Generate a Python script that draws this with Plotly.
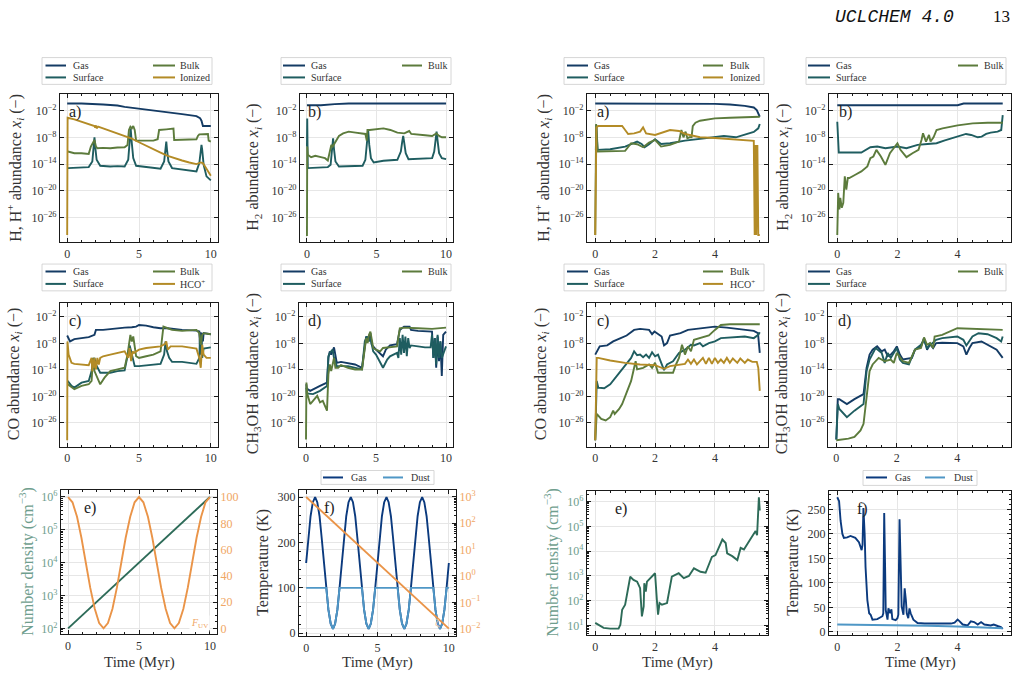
import plotly.graph_objects as go

W, H = 1019, 679
SERIF = "Liberation Serif"
MONO = "Liberation Mono"

C_GAS = "#143b64"
C_SURF = "#1f5d60"
C_BULK = "#5c7b3c"
C_ION = "#b38b26"
C_TGAS = "#0b3a7e"
C_DUST = "#4f97c6"
C_DENS = "#2d6b58"
C_ORNG = "#ea9448"
C_DENS_LBL = "#6f9e8e"
C_ORNG_LBL = "#f0a664"
FRAME = "#1a1a1a"
GRID = "#e6e6e6"
TXT = "#333333"
TICKSZ = 12

# ---------------- data : left simulation (0-10 Myr), log10 abundances ----------------
t_aL_gas = [0, 1, 2.5, 3.5, 4, 5, 6, 7, 8, 9, 9.25, 9.35, 9.45, 10]
lg_aL_gas = [-0.36, -0.36, -0.59, -0.81, -1.11, -1.48, -1.85, -2.22, -2.74, -3.19, -3.64, -4.23, -5.42, -5.42]
t_aL_surf = [0.05, 1.0, 1.5, 1.75, 1.85, 1.9, 1.95, 2.05, 2.3, 3.0, 3.5, 4.0, 4.25, 4.35, 4.42, 4.5, 4.6, 4.8, 5.5, 6.0,
             6.5, 6.75, 6.85, 6.9, 6.95, 7.05, 7.3, 8.0, 8.5, 9.0, 9.2, 9.3, 9.35, 9.4, 9.5, 9.7, 10]
lg_aL_surf = [-14.86, -14.71, -14.64, -13.38, -10.03, -7.95, -10.03, -13.00, -14.34, -14.49, -14.42, -14.49, -13.00, -9.29,
              -6.01, -9.29, -12.63, -14.34, -14.64, -14.86, -15.01, -13.38, -10.77, -8.91, -10.77, -13.38, -14.86, -15.23,
              -15.38, -15.61, -13.75, -10.77, -9.66, -10.77, -14.12, -16.72, -17.61]
t_aL_bulk = [0.05, 0.5, 1.0, 1.5, 1.65, 1.75, 1.9, 2.0, 2.1, 2.5, 3.0, 3.5, 4.0, 4.2, 4.3, 4.4, 4.5, 4.6, 4.7, 4.8, 5.0,
             5.5, 6.0, 6.3, 6.4, 6.9, 7.4, 7.45, 8.0, 8.5, 9.0, 9.1, 9.2, 9.8, 9.85, 10]
lg_aL_bulk = [-11.14, -11.52, -11.52, -11.67, -10.03, -9.51, -8.54, -10.03, -10.40, -10.33, -10.40, -10.25, -10.18, -9.66,
              -6.31, -5.57, -5.94, -5.42, -6.31, -8.69, -8.69, -8.84, -8.69, -8.39, -6.31, -6.16, -6.01, -8.54, -8.54,
              -8.54, -8.39, -7.65, -7.28, -7.20, -8.69, -8.91]
t_aL_ion = [0, 0.03, 0.5, 1, 1.5, 1.9, 1.95, 2.0, 2.05, 2.15, 2.5, 3, 3.5, 4, 4.5, 5, 5.5, 6, 6.5, 7, 7.5, 8, 8.5, 9,
            9.3, 9.45, 9.6, 10]
lg_aL_ion = [-29.88, -3.56, -3.93, -4.45, -4.97, -5.42, -5.79, -5.27, -5.94, -5.57, -5.94, -6.54, -7.06, -7.65, -8.25,
             -9.06, -9.88, -10.62, -11.37, -12.11, -12.71, -13.15, -13.60, -13.97, -13.60, -13.75, -14.49, -16.57]

t_bL_gas = [0, 1, 2, 3, 10]
lg_bL_gas = [-0.74, -0.74, -0.51, -0.36, -0.36]
t_bL_surf = [0, 0.02, 0.06, 1.5, 1.7, 1.8, 1.88, 1.95, 2.05, 2.3, 3.0, 4.0, 4.2, 4.32, 4.4, 4.48, 4.6, 4.8, 5.5, 6.5,
             6.75, 6.85, 6.92, 7.0, 7.1, 7.3, 8.0, 9.0, 9.15, 9.25, 9.32, 9.4, 9.5, 9.7, 10]
lg_bL_surf = [-10.03, -3.71, -14.86, -14.64, -14.12, -11.52, -8.17, -10.77, -13.38, -14.49, -14.49, -14.34, -13.00, -9.66,
              -6.31, -9.66, -12.63, -13.60, -13.23, -13.00, -11.14, -8.91, -7.65, -9.29, -11.52, -12.86, -12.71, -12.63,
              -11.14, -8.54, -6.68, -8.91, -11.52, -12.63, -12.86]
t_bL_bulk = [0, 0.02, 0.06, 0.3, 0.6, 1.0, 1.3, 1.5, 1.65, 1.75, 1.85, 2.0, 2.3, 2.6, 3.0, 3.5, 4.0, 4.2, 4.3, 4.35,
             4.5, 5.0, 5.5, 6.0, 6.5, 7.0, 7.35, 7.5, 8.0, 8.5, 9.0, 9.3, 9.5, 9.7, 10]
lg_bL_bulk = [-30.10, -10.03, -11.89, -12.41, -12.11, -12.41, -12.63, -13.15, -10.77, -9.66, -10.03, -9.29, -7.65, -7.06,
              -6.68, -6.91, -7.06, -7.20, -8.69, -6.31, -6.31, -6.16, -5.94, -6.31, -6.91, -7.06, -6.54, -7.20, -7.43,
              -7.50, -7.65, -7.06, -7.65, -7.95, -7.95]

t_cL_gas = [0, 0.05, 0.2, 0.5, 1.0, 1.5, 1.9, 2.0, 2.5, 3.0, 3.5, 4.0, 4.5, 4.8, 5.0, 5.5, 6.0, 6.5, 7.0, 7.5, 8.0,
            9.0, 9.2, 9.25, 9.3, 9.35, 9.4, 9.45, 9.5, 10]
lg_cL_gas = [-6.22, -6.66, -7.56, -7.04, -6.81, -6.59, -6.07, -4.95, -4.95, -4.72, -4.57, -4.43, -4.35, -4.20, -3.83,
             -3.98, -4.35, -4.57, -4.57, -4.80, -4.95, -5.10, -5.32, -9.05, -5.47, -8.31, -5.69, -7.56, -5.69, -5.92]
t_cL_surf = [0.03, 0.3, 0.5, 1.0, 1.5, 1.7, 1.8, 1.9, 2.0, 2.1, 2.3, 3.0, 3.5, 4.0, 4.25, 4.35, 4.45, 4.55, 4.7, 5.0,
             6.0, 6.5, 6.75, 6.85, 6.95, 7.1, 7.3, 8.0, 9.0, 9.2, 9.25, 9.3, 9.35, 9.4, 9.5, 10]
lg_cL_surf = [-16.51, -17.63, -18.01, -16.89, -16.51, -14.28, -12.04, -11.29, -12.78, -13.53, -14.65, -14.65, -14.28,
              -14.13, -10.54, -8.46, -9.80, -11.29, -13.16, -13.16, -12.78, -12.63, -10.54, -7.56, -9.80, -11.29,
              -12.19, -12.19, -12.63, -11.29, -6.07, -10.54, -6.81, -11.29, -9.20, -8.90]
t_cL_bulk = [0.03, 0.5, 1.0, 1.5, 1.7, 1.8, 1.9, 2.0, 2.3, 2.6, 3.0, 3.5, 4.0, 4.2, 4.3, 4.4, 4.5, 4.6, 4.8, 5.0, 5.5,
             6.0, 6.5, 6.6, 6.7, 7.0, 7.3, 8.0, 9.0, 9.2, 9.3, 9.4, 9.5, 10]
lg_cL_bulk = [-17.26, -18.38, -17.63, -17.26, -16.51, -11.29, -14.28, -15.02, -17.26, -15.77, -14.28, -13.90, -13.53,
              -10.54, -7.56, -6.07, -7.56, -6.44, -10.92, -11.29, -10.92, -10.54, -9.80, -6.81, -4.20, -4.57, -4.95,
              -5.17, -4.95, -5.69, -8.31, -6.07, -5.69, -5.92]
t_cL_hco = [0, 0.02, 0.1, 0.3, 0.5, 1.0, 1.5, 1.7, 1.75, 1.8, 1.85, 1.9, 2.0, 2.1, 2.2, 2.3, 2.5, 3.0, 3.5, 4.0, 4.25,
            4.35, 4.45, 4.55, 4.65, 5.0, 5.5, 6.0, 6.5, 6.8, 6.9, 7.0, 7.2, 8.0, 9.0, 9.2, 9.3, 9.4, 9.5, 9.7, 10]
lg_cL_hco = [-29.94, -7.56, -10.54, -12.41, -12.63, -12.78, -12.93, -11.29, -14.28, -11.66, -13.53, -11.29, -13.90,
             -11.29, -12.78, -11.29, -10.92, -10.54, -10.16, -9.80, -11.29, -9.05, -12.04, -9.80, -10.16, -9.43, -9.05,
             -8.90, -8.68, -8.16, -7.56, -9.43, -8.68, -8.68, -9.20, -11.29, -13.53, -8.31, -10.54, -11.29, -11.29]

t_dL_gas = [0.02, 0.05, 0.3, 0.5, 1.0, 1.5, 1.6, 1.7, 1.8, 2.0, 2.1, 2.2, 2.5, 3.0, 3.5, 4.0, 4.2, 4.3, 4.5, 4.6, 4.7,
            5.0, 5.5, 5.7, 6.0, 6.5, 6.7, 7.0, 7.4, 7.5, 8.0, 8.5, 9.0, 9.1, 9.2, 9.3, 9.4, 9.5, 9.6, 9.7, 9.8, 10]
lg_dL_gas = [-17.26, -18.23, -18.75, -18.38, -17.63, -16.89, -11.29, -9.80, -10.54, -8.90, -10.54, -12.41, -12.19,
             -12.41, -12.78, -13.53, -8.31, -6.44, -7.19, -5.69, -8.31, -9.43, -10.92, -9.43, -8.46, -8.16, -4.95,
             -4.20, -4.20, -4.95, -5.17, -5.17, -5.32, -11.29, -6.81, -13.53, -6.44, -12.04, -7.56, -15.40, -6.07, -5.32]
t_dL_surf = [0.02, 0.05, 0.5, 1.0, 1.5, 1.6, 1.7, 1.9, 2.0, 2.2, 3.0, 3.5, 4.0, 4.2, 4.35, 4.5, 4.6, 4.8, 5.0, 5.5,
             5.8, 6.0, 6.5, 6.6, 6.7, 6.8, 6.9, 7.0, 7.1, 7.2, 7.3, 7.4, 7.5, 8.0, 8.5, 8.9, 9.0, 9.1, 9.2, 9.3, 9.4,
             9.5, 9.6, 9.7, 10]
lg_dL_surf = [-18.01, -19.35, -19.50, -18.75, -17.63, -10.92, -10.16, -9.43, -11.29, -13.16, -13.16, -13.53, -13.90,
              -7.56, -6.44, -7.56, -6.81, -9.80, -10.54, -13.53, -11.66, -10.92, -10.16, -11.29, -6.81, -10.54, -6.07,
              -10.16, -6.44, -10.92, -6.81, -9.05, -8.46, -8.68, -8.90, -8.90, -6.07, -11.29, -6.81, -12.78, -6.07,
              -11.29, -7.56, -11.29, -8.68]
t_dL_bulk = [0, 0.03, 0.1, 0.3, 0.5, 0.8, 1.0, 1.2, 1.5, 1.55, 1.6, 1.7, 1.8, 2.0, 2.1, 2.3, 2.5, 3.0, 3.5, 4.0, 4.2,
             4.3, 4.4, 4.5, 4.6, 4.8, 5.0, 5.3, 5.5, 6.0, 6.5, 6.7, 7.0, 8.0, 9.0, 10]
lg_dL_bulk = [-29.79, -16.89, -19.50, -21.74, -21.00, -19.88, -21.37, -21.00, -23.23, -17.26, -15.02, -12.78, -14.28,
              -11.29, -13.53, -13.53, -12.93, -13.53, -13.90, -13.90, -9.05, -6.81, -7.93, -6.07, -5.32, -9.05, -9.43,
              -9.80, -9.05, -8.90, -8.68, -4.57, -4.43, -4.57, -4.72, -4.43]

# physical conditions, left simulation
t_eL_dens = [0, 10]
nH_eL = [1e2, 1e6]
t_eL_fuv = [0.0, 0.31, 0.63, 0.94, 1.25, 1.56, 1.88, 2.19, 2.5, 2.81, 3.13, 3.44, 3.75, 4.06, 4.38, 4.69, 5.0, 5.31,
            5.63, 5.94, 6.25, 6.56, 6.88, 7.19, 7.5, 7.81, 8.13, 8.44, 8.75, 9.06, 9.38, 9.69, 10.0]
fuv_eL = [100, 96, 85, 69, 50, 31, 15, 4, 0, 4, 15, 31, 50, 69, 85, 96, 100, 96, 85, 69, 50, 31, 15, 4, 0, 4, 15, 31,
          50, 69, 85, 96, 100]
t_fL = [0.0, 0.16, 0.31, 0.47, 0.63, 0.78, 0.94, 1.09, 1.25, 1.41, 1.56, 1.72, 1.88, 2.03, 2.19, 2.34, 2.5, 2.66,
        2.81, 2.97, 3.13, 3.28, 3.44, 3.59, 3.75, 3.91, 4.06, 4.22, 4.38, 4.53, 4.69, 4.84, 5.0, 5.16, 5.31, 5.47,
        5.63, 5.78, 5.94, 6.09, 6.25, 6.41, 6.56, 6.72, 6.88, 7.03, 7.19, 7.34, 7.5, 7.66, 7.81, 7.97, 8.13, 8.28,
        8.44, 8.59, 8.75, 8.91, 9.06, 9.22, 9.38, 9.53, 9.69, 9.84, 10.0]
Tgas_fL = [155, 210, 258, 289, 300, 289, 258, 210, 155, 100, 52, 21, 10, 21, 52, 100,
           155, 210, 258, 289, 300, 289, 258, 210, 155, 100, 52, 21, 10, 21, 52, 100,
           155, 210, 258, 289, 300, 289, 258, 210, 155, 100, 52, 21, 10, 21, 52, 100,
           155, 210, 258, 289, 300, 289, 258, 210, 155, 100, 52, 21, 10, 21, 52, 100, 155]
Tdust_fL = [100, 100, 100, 100, 100, 100, 100, 100, 100, 100, 52, 21, 10, 21, 52, 100,
            100, 100, 100, 100, 100, 100, 100, 100, 100, 100, 52, 21, 10, 21, 52, 100,
            100, 100, 100, 100, 100, 100, 100, 100, 100, 100, 52, 21, 10, 21, 52, 100,
            100, 100, 100, 100, 100, 100, 100, 100, 100, 100, 52, 21, 10, 21, 52, 100, 100]
t_fL_zeta = [0, 10]
zeta_fL = [1e3, 1e-2]

# ---------------- data : right simulation (0-5.5 Myr) ----------------
t_aR_gas = [0, 1, 2, 3, 4, 4.5, 5.0, 5.3, 5.4, 5.5]
lg_aR_gas = [-0.36, -0.36, -0.36, -0.36, -0.44, -0.59, -0.89, -1.26, -1.85, -3.34]
t_aR_surf = [0.02, 0.04, 0.08, 0.5, 1.0, 1.2, 1.4, 1.55, 1.65, 1.8, 2.0, 2.2, 2.5, 3.0, 3.5, 4.0, 4.3, 4.7, 5.0, 5.3,
             5.45, 5.5]
lg_aR_surf = [-10.77, -5.20, -10.77, -10.62, -10.03, -9.44, -8.91, -9.44, -10.18, -9.51, -8.39, -9.44, -9.29, -8.69,
              -8.25, -7.95, -7.65, -7.95, -7.43, -6.76, -5.94, -4.97]
t_aR_bulk = [0, 0.03, 0.08, 0.5, 1.0, 1.2, 1.4, 1.6, 1.8, 2.0, 2.2, 2.5, 2.8, 2.88, 2.95, 3.02, 3.08, 3.15, 3.22, 3.26,
             3.35, 3.5, 4.0, 4.5, 5.0, 5.5]
lg_aR_bulk = [-29.88, -4.97, -11.14, -11.14, -10.99, -9.29, -9.51, -10.18, -9.14, -8.54, -10.03, -9.66, -8.91, -6.31,
              -7.95, -6.68, -8.17, -7.95, -7.95, -5.42, -4.68, -4.23, -3.71, -3.56, -3.49, -3.34]
t_aR_ion = [0, 0.04, 0.1, 0.5, 0.9, 1.0, 1.1, 1.3, 1.5, 1.6, 1.65, 1.7, 2.0, 2.2, 2.5, 2.8, 3.0, 3.2, 3.5, 4.0, 4.5,
            5.0, 5.3, 5.33, 5.36, 5.38, 5.42, 5.45, 5.5]
lg_aR_ion = [-29.88, -5.72, -5.42, -5.42, -5.42, -6.31, -7.20, -7.06, -6.68, -5.72, -6.31, -7.06, -7.43, -6.91, -6.31,
             -6.54, -7.20, -7.50, -7.95, -8.10, -8.39, -8.69, -8.76, -29.88, -9.66, -29.88, -9.66, -29.88, -29.88]

t_bR_gas = [0, 4.0, 4.2, 5.5]
lg_bR_gas = [-0.74, -0.74, -0.36, -0.36]
t_bR_surf = [0, 0.05, 0.5, 0.8, 1.1, 1.33, 1.6, 1.8, 2.0, 2.3, 2.5, 2.67, 3.0, 3.3, 3.55, 3.83, 4.05, 4.28, 4.45, 4.67,
             4.8, 4.95, 5.1, 5.33, 5.45, 5.5]
lg_bR_surf = [-4.45, -11.37, -11.37, -11.37, -10.18, -10.03, -10.40, -10.18, -10.03, -10.40, -10.03, -9.66, -9.44,
              -9.29, -8.69, -8.17, -7.65, -7.20, -7.43, -7.95, -7.80, -7.20, -6.91, -6.68, -6.31, -2.97]
t_bR_bulk = [0, 0.03, 0.07, 0.1, 0.15, 0.2, 0.25, 0.3, 0.35, 0.4, 0.6, 0.8, 1.0, 1.1, 1.2, 1.3, 1.45, 1.6, 1.75, 1.9,
             2.0, 2.1, 2.3, 2.5, 2.7, 2.8, 2.85, 2.95, 3.05, 3.1, 3.2, 3.3, 3.5, 4.0, 4.5, 5.0, 5.5]
lg_bR_bulk = [-29.88, -20.44, -24.16, -21.55, -23.78, -22.67, -16.72, -19.70, -17.09, -17.09, -16.35, -15.61, -14.49,
              -12.63, -12.26, -10.77, -12.26, -14.12, -11.52, -10.03, -9.29, -10.77, -12.41, -11.52, -10.77, -8.54,
              -7.06, -8.91, -7.43, -8.91, -7.95, -6.31, -5.94, -5.27, -4.83, -4.68, -4.68]

t_cR_gas = [0, 0.15, 0.4, 0.6, 0.85, 1.05, 1.3, 1.5, 1.8, 1.9, 1.98, 2.07, 2.22, 2.3, 2.4, 2.5, 2.85, 3.1, 3.5, 4.0,
            4.4, 4.85, 5.3, 5.44, 5.5]
lg_cR_gas = [-10.54, -8.68, -8.46, -7.56, -6.81, -6.22, -4.95, -4.72, -4.95, -5.92, -5.32, -5.69, -6.44, -8.46, -7.93,
             -6.22, -5.69, -4.95, -4.57, -4.20, -4.43, -4.72, -5.17, -5.69, -10.16]
t_cR_surf = [0, 0.05, 0.1, 0.3, 0.5, 0.8, 1.0, 1.2, 1.3, 1.4, 1.5, 1.6, 1.7, 1.8, 1.9, 2.0, 2.1, 2.3, 2.4, 2.6, 2.8,
             3.0, 3.2, 3.3, 3.5, 3.6, 3.8, 4.0, 4.2, 4.5, 5.0, 5.3, 5.45, 5.5]
lg_cR_surf = [-29.94, -16.51, -18.01, -18.16, -17.26, -14.65, -12.78, -11.29, -9.80, -10.69, -10.54, -11.14, -10.54,
              -11.29, -10.02, -10.92, -10.54, -14.05, -12.78, -12.04, -10.16, -9.43, -8.31, -8.46, -7.93, -8.68, -7.93,
              -7.56, -6.81, -6.66, -6.44, -6.81, -6.07, -5.47]
t_cR_bulk = [0, 0.05, 0.2, 0.35, 0.5, 0.6, 0.65, 0.8, 0.9, 1.0, 1.1, 1.2, 1.3, 1.35, 1.4, 1.6, 1.8, 1.9, 2.0, 2.1, 2.3,
             2.6, 2.7, 2.8, 2.9, 3.0, 3.1, 3.2, 3.3, 3.5, 3.8, 4.0, 4.2, 4.5, 5.0, 5.5]
lg_cR_bulk = [-29.94, -23.98, -25.10, -25.47, -24.72, -23.23, -23.98, -22.86, -21.74, -19.88, -18.01, -16.51, -13.53,
              -12.04, -13.90, -13.53, -12.78, -13.53, -12.41, -14.65, -14.65, -14.65, -12.78, -11.29, -8.31, -10.54,
              -8.68, -9.80, -7.19, -6.81, -6.22, -4.95, -3.83, -3.68, -3.68, -3.68]
t_cR_hco = [0, 0.05, 0.1, 0.3, 0.5, 1.0, 1.5, 2.0, 2.3, 2.5, 2.8, 3.0, 3.1, 3.2, 3.3, 3.4, 3.5, 3.6, 3.7, 3.8, 3.9,
            4.0, 4.1, 4.2, 4.3, 4.4, 4.5, 4.6, 4.75, 4.85, 5.0, 5.1, 5.25, 5.4, 5.45, 5.5]
lg_cR_hco = [-29.94, -11.29, -11.29, -11.66, -11.89, -12.41, -12.78, -12.93, -13.75, -13.16, -12.78, -12.63, -11.66,
             -12.63, -11.66, -12.78, -12.04, -11.29, -12.63, -11.29, -12.63, -11.29, -12.41, -11.66, -12.41, -11.29,
             -12.41, -11.44, -12.41, -11.44, -12.41, -11.66, -12.19, -12.19, -13.53, -18.75]

t_dR_gas = [0, 0.05, 0.1, 0.35, 0.6, 0.9, 1.0, 1.1, 1.2, 1.35, 1.5, 1.6, 1.7, 1.8, 1.9, 2.0, 2.1, 2.2, 2.5, 2.6, 2.8,
            2.9, 3.0, 3.1, 3.2, 3.3, 3.5, 4.0, 4.2, 4.3, 4.4, 4.5, 4.8, 5.0, 5.3, 5.5]
lg_dR_gas = [-29.79, -20.62, -20.62, -21.74, -20.62, -19.50, -13.53, -10.54, -9.43, -8.68, -9.80, -9.43, -10.92,
             -10.54, -9.80, -8.68, -10.54, -11.66, -11.29, -9.43, -8.68, -6.81, -9.43, -8.16, -9.05, -7.93, -7.86,
             -7.93, -8.68, -10.54, -9.05, -7.93, -7.56, -8.31, -9.43, -11.29]
t_dR_surf = [0, 0.05, 0.1, 0.35, 0.6, 0.9, 1.0, 1.1, 1.3, 1.5, 1.6, 1.7, 1.8, 2.0, 2.1, 2.2, 2.4, 2.6, 2.8, 2.9, 3.0,
             3.3, 3.5, 4.0, 4.2, 4.3, 4.5, 4.7, 5.0, 5.3, 5.45, 5.5]
lg_dR_surf = [-29.79, -21.74, -22.86, -24.72, -23.23, -21.74, -14.28, -11.66, -9.05, -10.16, -12.41, -10.16, -11.29,
              -9.05, -11.66, -12.41, -12.78, -9.43, -8.31, -7.19, -9.05, -7.19, -6.81, -6.44, -7.19, -8.46, -6.44,
              -5.69, -5.92, -6.81, -7.56, -6.44]
t_dR_bulk = [0, 0.2, 0.4, 0.6, 0.8, 0.9, 1.0, 1.1, 1.2, 1.4, 1.6, 1.8, 1.9, 2.0, 2.2, 2.4, 2.6, 2.8, 2.9, 3.0, 3.1,
             3.2, 3.25, 3.5, 4.0, 4.5, 5.0, 5.5]
lg_dR_bulk = [-29.94, -29.79, -29.57, -29.20, -27.71, -26.21, -20.25, -14.28, -12.78, -11.29, -12.04, -11.66, -12.41,
              -10.16, -12.04, -12.41, -9.43, -9.05, -6.66, -8.31, -7.93, -9.05, -6.44, -6.07, -4.57, -4.72, -4.80, -4.95]

t_eR_dens = [0, 0.28, 0.5, 0.78, 0.84, 0.9, 1.0, 1.06, 1.1, 1.17, 1.28, 1.4, 1.45, 1.5, 1.56, 1.62, 1.64, 1.69, 1.73,
             1.79, 1.95, 2.0, 2.06, 2.1, 2.15, 2.23, 2.4, 2.45, 2.5, 2.56, 2.67, 2.79, 2.96, 3.13, 3.3, 3.35, 3.52,
             3.69, 3.8, 3.9, 4.02, 4.13, 4.25, 4.36, 4.41, 4.58, 4.75, 4.86, 4.97, 5.2, 5.3, 5.36, 5.41, 5.47, 5.5]
lg_eR_dens = [1.11, 0.91, 0.88, 0.88, 1.04, 1.64, 1.84, 2.24, 2.37, 2.97, 2.84, 2.77, 2.64, 2.51, 1.37, 1.77, 2.71,
              2.37, 2.77, 2.84, 3.04, 3.11, 2.04, 1.44, 1.91, 1.84, 1.91, 2.31, 2.57, 2.97, 3.04, 3.11, 2.91, 3.00,
              3.31, 3.27, 3.17, 3.13, 3.51, 3.77, 3.84, 4.11, 4.47, 4.33, 3.91, 3.80, 3.64, 4.13, 4.07, 4.51, 4.71,
              4.81, 4.64, 6.17, 5.64]
t_fR_gas = [0, 0.06, 0.11, 0.17, 0.22, 0.33, 0.44, 0.6, 0.72, 0.78, 0.81, 0.84, 0.87, 0.91, 0.94, 1.0, 1.06, 1.11, 1.17,
            1.33, 1.5, 1.53, 1.56, 1.59, 1.61, 1.67, 1.7, 1.76, 1.8, 1.83, 1.94, 2.0, 2.03, 2.07, 2.11, 2.14, 2.2, 2.24,
            2.28, 2.31, 2.36, 2.4, 2.44, 2.53, 2.67, 2.9, 3.33, 3.78, 3.9, 4.0, 4.06, 4.17, 4.33, 4.44, 4.55, 4.67,
            4.78, 4.89, 5.1, 5.2, 5.33, 5.44, 5.5]
T_fR_gas = [275, 267, 227, 200, 192, 193, 196, 192, 183, 173, 167, 178, 253, 200, 132, 65, 38, 35, 25, 26, 32, 38, 243,
            132, 45, 25, 48, 38, 46, 26, 24, 28, 35, 230, 132, 52, 35, 89, 65, 38, 28, 48, 38, 25, 18, 17, 17, 17, 19,
            25, 22, 15, 13, 21.5, 20, 15, 20, 15, 13, 15, 12, 10, 6]
t_fR_dust = [0, 1, 2, 3, 4, 5, 5.5]
T_fR_dust = [15, 14.5, 13.5, 12.5, 11, 9, 7.5]

# ---------------- figure construction ----------------
def px(x):
    return x / W


def py(y):
    return 1 - y / H


def xname(i):
    return "x" if i == 1 else f"x{i}"


def yname(i):
    return "y" if i == 1 else f"y{i}"


fig = go.Figure()
lay = {}
ann = []
shp = []

XL = [-0.5, 10.5]
XR = [-0.275, 5.775]
ABV = [1e-26, 1e-20, 1e-14, 1e-8, 1e-2]
ABT = ["10<sup>\u221226</sup>", "10<sup>\u221220</sup>", "10<sup>\u221214</sup>", "10<sup>\u22128</sup>",
       "10<sup>\u22122</sup>"]


def add_x(i, xd, yi, rng, vals, minor):
    lay["xaxis" if i == 1 else f"xaxis{i}"] = dict(
        domain=[px(xd[0]), px(xd[1])], range=rng, anchor=yname(yi),
        showline=True, linecolor=FRAME, linewidth=1.1, mirror="ticks",
        ticks="inside", ticklen=4, tickwidth=0.9, tickcolor=FRAME,
        tickmode="array", tickvals=vals, ticktext=[str(v) for v in vals],
        showgrid=True, gridcolor=GRID, gridwidth=1, zeroline=False,
        tickfont=dict(family=SERIF, size=TICKSZ, color=TXT),
        minor=dict(ticks="inside", ticklen=2, tickwidth=0.6, tickcolor=FRAME, dtick=minor, tick0=0, showgrid=False))


def add_y(i, yd, xi, rng, vals, text, log, minor=None, side="left", overlay=None, mirror="ticks", lbl=TXT):
    d = dict(range=rng, anchor=xname(xi), side=side, type="log" if log else "linear",
             showline=True, linecolor=FRAME, linewidth=1.1, mirror=mirror,
             ticks="inside", ticklen=4, tickwidth=0.9, tickcolor=FRAME,
             tickmode="array", tickvals=vals, ticktext=text,
             showgrid=True, gridcolor=GRID, gridwidth=1, zeroline=False,
             tickfont=dict(family=SERIF, size=TICKSZ, color=lbl))
    if minor is not None:
        d["minor"] = dict(ticks="inside", ticklen=2, tickwidth=0.6, tickcolor=FRAME, dtick=minor, showgrid=False)
    if overlay:
        d["overlaying"] = overlay
    else:
        d["domain"] = [py(yd[1]), py(yd[0])]
    lay["yaxis" if i == 1 else f"yaxis{i}"] = d


def tr(t, y, xi, yi, color, w=1.9, log=True):
    yy = [10.0 ** v for v in y] if log else y
    fig.add_trace(go.Scatter(x=t, y=yy, xaxis=xname(xi), yaxis=yname(yi), mode="lines",
                             line=dict(color=color, width=w), showlegend=False, hoverinfo="skip"))


def text(x, y, s, size=11, color=TXT, xa="center", ya="middle", angle=0, family=SERIF, bg=None):
    a = dict(xref="paper", yref="paper", x=px(x), y=py(y), text=s, showarrow=False, xanchor=xa, yanchor=ya,
             textangle=angle, font=dict(family=family, size=size, color=color))
    if bg:
        a["bgcolor"] = bg
    ann.append(a)


TOP = (94, 243)
MID = (304, 449)
YTOP = [-31.5, 1.7]
YMID = [-31.4, 1.2]

abund = [
    (1, (60, 218), TOP, XL, [0, 5, 10], 1, YTOP),
    (2, (300, 453), TOP, XL, [0, 5, 10], 1, YTOP),
    (3, (587, 768), TOP, XR, [0, 2, 4], 0.5, YTOP),
    (4, (829, 1011), TOP, XR, [0, 2, 4], 0.5, YTOP),
    (5, (60, 218), MID, XL, [0, 5, 10], 1, YMID),
    (6, (299, 453), MID, XL, [0, 5, 10], 1, YMID),
    (7, (587, 768), MID, XR, [0, 2, 4], 0.5, YMID),
    (8, (828, 1011), MID, XR, [0, 2, 4], 0.5, YMID),
]
for i, xd, yd, xr, xv, mn, yr in abund:
    add_x(i, xd, i, xr, xv, mn)
    add_y(i, yd, i, yr, ABV, ABT, True)

tr(t_aL_gas, lg_aL_gas, 1, 1, C_GAS)
tr(t_aL_surf, lg_aL_surf, 1, 1, C_SURF)
tr(t_aL_bulk, lg_aL_bulk, 1, 1, C_BULK)
tr(t_aL_ion, lg_aL_ion, 1, 1, C_ION)
tr(t_bL_gas, lg_bL_gas, 2, 2, C_GAS)
tr(t_bL_surf, lg_bL_surf, 2, 2, C_SURF)
tr(t_bL_bulk, lg_bL_bulk, 2, 2, C_BULK)
tr(t_aR_gas, lg_aR_gas, 3, 3, C_GAS)
tr(t_aR_surf, lg_aR_surf, 3, 3, C_SURF)
tr(t_aR_bulk, lg_aR_bulk, 3, 3, C_BULK)
tr(t_aR_ion, lg_aR_ion, 3, 3, C_ION)
tr(t_bR_gas, lg_bR_gas, 4, 4, C_GAS)
tr(t_bR_surf, lg_bR_surf, 4, 4, C_SURF)
tr(t_bR_bulk, lg_bR_bulk, 4, 4, C_BULK)
tr(t_cL_gas, lg_cL_gas, 5, 5, C_GAS)
tr(t_cL_surf, lg_cL_surf, 5, 5, C_SURF)
tr(t_cL_bulk, lg_cL_bulk, 5, 5, C_BULK)
tr(t_cL_hco, lg_cL_hco, 5, 5, C_ION)
tr(t_dL_gas, lg_dL_gas, 6, 6, C_GAS)
tr(t_dL_surf, lg_dL_surf, 6, 6, C_SURF)
tr(t_dL_bulk, lg_dL_bulk, 6, 6, C_BULK)
tr(t_cR_gas, lg_cR_gas, 7, 7, C_GAS)
tr(t_cR_surf, lg_cR_surf, 7, 7, C_SURF)
tr(t_cR_bulk, lg_cR_bulk, 7, 7, C_BULK)
tr(t_cR_hco, lg_cR_hco, 7, 7, C_ION)
tr(t_dR_gas, lg_dR_gas, 8, 8, C_GAS)
tr(t_dR_surf, lg_dR_surf, 8, 8, C_SURF)
tr(t_dR_bulk, lg_dR_bulk, 8, 8, C_BULK)

# e) left: density (log, left) + F_UV (linear, right)
add_x(9, (61, 217), 9, XL, [0, 5, 10], 1)
add_y(9, (493, 638), 9, [1.82, 6.2], [1e2, 1e3, 1e4, 1e5, 1e6],
      ["10<sup>2</sup>", "10<sup>3</sup>", "10<sup>4</sup>", "10<sup>5</sup>", "10<sup>6</sup>"], True,
      minor="D1", mirror=False, lbl=C_DENS_LBL)
add_y(13, None, 9, [-4.5, 105.1], [0, 20, 40, 60, 80, 100], ["0", "20", "40", "60", "80", "100"], False,
      minor=5, side="right", overlay="y9", mirror=False, lbl=C_ORNG_LBL)
tr(t_eL_dens, nH_eL, 9, 9, C_DENS, log=False)
tr(t_eL_fuv, fuv_eL, 9, 13, C_ORNG, log=False)

# f) left: temperatures (linear, left) + zeta (log, right)
add_x(10, (299, 456), 10, XL, [0, 5, 10], 1)
add_y(10, (493, 640), 10, [-6.6, 315], [0, 100, 200, 300], ["0", "100", "200", "300"], False,
      minor=20, mirror=False)
add_y(14, None, 10, [-2.29, 3.25], [1e-2, 1e-1, 1e0, 1e1, 1e2, 1e3],
      ["10<sup>\u22122</sup>", "10<sup>\u22121</sup>", "10<sup>0</sup>", "10<sup>1</sup>", "10<sup>2</sup>",
       "10<sup>3</sup>"], True, minor="D1", side="right", overlay="y10", mirror=False, lbl=C_ORNG_LBL)
tr(t_fL, Tgas_fL, 10, 10, C_TGAS, log=False)
tr(t_fL, Tdust_fL, 10, 10, C_DUST, log=False)
tr(t_fL_zeta, zeta_fL, 10, 14, C_ORNG, log=False)

# e) right
add_x(11, (587, 768), 11, XR, [0, 2, 4], 0.5)
add_y(11, (494, 639), 11, [0.61, 6.41], [1e1, 1e2, 1e3, 1e4, 1e5, 1e6],
      ["10<sup>1</sup>", "10<sup>2</sup>", "10<sup>3</sup>", "10<sup>4</sup>", "10<sup>5</sup>", "10<sup>6</sup>"],
      True, minor="D1", lbl=C_DENS_LBL)
tr(t_eR_dens, lg_eR_dens, 11, 11, C_DENS)

# f) right
add_x(12, (829, 1011), 12, XR, [0, 2, 4], 0.5)
add_y(12, (494, 639), 12, [-7, 287], [0, 50, 100, 150, 200, 250], ["0", "50", "100", "150", "200", "250"], False,
      minor=10)
tr(t_fR_gas, T_fR_gas, 12, 12, C_TGAS, log=False)
tr(t_fR_dust, T_fR_dust, 12, 12, C_DUST, log=False)

# ---------------- annotations ----------------
ABU = " abundance <i>x<sub>i</sub></i> (\u2212)"
YT = 16
for cx, cy, s in [(15, 168, "H, H<sup>+</sup>" + ABU), (254, 168, "H<sub>2</sub>" + ABU),
                  (543, 168, "H, H<sup>+</sup>" + ABU), (784, 168, "H<sub>2</sub>" + ABU),
                  (14, 376, "CO" + ABU), (253, 376, "CH<sub>3</sub>OH" + ABU),
                  (541, 376, "CO" + ABU), (782, 376, "CH<sub>3</sub>OH" + ABU),
                  (263, 566, "Temperature (K)"), (793, 566, "Temperature (K)")]:
    text(cx, cy, s, size=YT, angle=-90)
text(27, 565, "Number density (cm<sup>\u22123</sup>)", size=YT, angle=-90, color=C_DENS_LBL)
text(552, 566, "Number density (cm<sup>\u22123</sup>)", size=YT, angle=-90, color=C_DENS_LBL)
for cx in (139, 377, 677, 920):
    text(cx, 666, "Time (Myr)", size=15)

for x, y, s in [(67, 101, "a)"), (306, 101, "b)"), (595, 101, "a)"), (837, 101, "b)"),
                (67, 311, "c)"), (306, 311, "d)"), (595, 311, "c)"), (836, 311, "d)"),
                (82, 500, "e)"), (322, 500, "f)"), (613, 501, "e)"), (855, 501, "f)")]:
    text(x, y, s, size=16, color="#222", xa="left", ya="top")

text(210, 627, "<i>F</i><sub>UV</sub>", size=10, color=C_ORNG_LBL, xa="right", bg="white")
text(437, 626, "\u03b6", size=11, color="#f5c9a5", xa="center")

text(894, 16, "<i>UCLCHEM 4.0</i>", size=18, color="#111", family=MONO)
text(1001, 16, "13", size=17, color="#111")


# ---------------- legends ----------------
def box(x0, x1, y0, y1):
    shp.append(dict(type="rect", xref="paper", yref="paper", x0=px(x0), x1=px(x1), y0=py(y1), y1=py(y0),
                    line=dict(color="#cccccc", width=0.8), fillcolor="white", layer="above"))


def item(lx0, lx1, tx, y, label, color):
    shp.append(dict(type="line", xref="paper", yref="paper", x0=px(lx0), x1=px(lx1), y0=py(y), y1=py(y),
                    line=dict(color=color, width=2), layer="above"))
    text(tx, y, label, size=10, color=TXT, xa="left")


cols = {
    "L1": ((42, 212), (45.5, 66, 71), (153, 175, 178)),
    "L2": ((281, 451), (283, 305, 309), (402, 422, 426)),
    "R1": ((564, 764), (567, 588, 592), (703, 723, 728)),
    "R2": ((806, 1006), (808, 830, 834), (958, 978, 982)),
}
for (by0, by1, r1, r2, fourth) in [(57, 84, 65, 77, "Ionized"), (265, 292, 272.5, 285, "HCO<sup>+</sup>")]:
    for key in ("L1", "L2", "R1", "R2"):
        (bx0, bx1), c1, c2 = cols[key]
        box(bx0, bx1, by0, by1)
        item(c1[0], c1[1], c1[2], r1, "Gas", C_GAS)
        item(c1[0], c1[1], c1[2], r2, "Surface", C_SURF)
        item(c2[0], c2[1], c2[2], r1, "Bulk", C_BULK)
        if key.endswith("1"):
            item(c2[0], c2[1], c2[2], r2, fourth, C_ION)

box(321, 434, 473, 487)
item(323, 343, 349, 480, "Gas", C_TGAS)
item(383, 403, 409, 480, "Dust", C_DUST)
box(863, 977, 473, 488)
item(866, 887, 893, 480, "Gas", C_TGAS)
item(925, 945, 952, 480, "Dust", C_DUST)

fig.update_layout(width=W, height=H, margin=dict(l=0, r=0, t=0, b=0), paper_bgcolor="white",
                  plot_bgcolor="white", showlegend=False, font=dict(family=SERIF, size=11, color=TXT),
                  annotations=ann, shapes=shp, **lay)
fig.write_html("out.html")
